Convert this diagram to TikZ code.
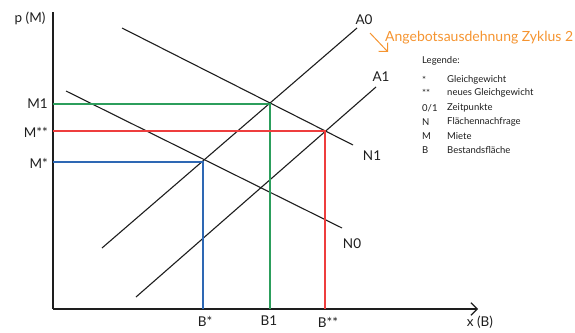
\documentclass[tikz,border=0pt]{standalone}
\usepackage{fontspec}
\setmainfont{Lato}
\usepackage{xcolor}
\usepackage{tikz}
\usetikzlibrary{arrows.meta}
\definecolor{mktgreen}{RGB}{44,158,92}
\definecolor{mktred}{RGB}{238,62,62}
\definecolor{mktblue}{RGB}{46,104,180}
\definecolor{mktorange}{RGB}{245,148,48}
\definecolor{mktgray}{RGB}{30,30,30}

\begin{document}
\begin{tikzpicture}[
    x=1pt, y=-1pt,
    font=\fontsize{13.5}{15}\selectfont,
    axis/.style={line width=1.2pt, draw=mktgray},
    curve/.style={line width=1.1pt, draw=mktgray},
    guide/.style={line width=1.2pt},
    lbl/.style={inner sep=1pt, text=mktgray},
    legend/.style={inner sep=0pt, anchor=west, font=\fontsize{9.5}{11}\selectfont, text=mktgray},
    arr/.style={-{Straight Barb[length=2.2mm]}, line width=1pt, draw=mktorange}
  ]
    \useasboundingbox (0,0) rectangle (575,332);

    % axes
    \coordinate (O) at (53,309);
    \coordinate (ytop) at (53,12);
    \coordinate (xend) at (478,309);
    \draw[axis] (ytop) -- (O);
    \draw[axis, -{Straight Barb[length=2.2mm]}] (O) -- (xend);
    \node[lbl] (ylab) at (30,18) {p (M)};
    \node[lbl] (xlab) at (480,322) {x (B)};

    % supply and demand
    \coordinate (A0s) at (102,248);
    \coordinate (A0e) at (357,28);
    \coordinate (A1s) at (136,297);
    \coordinate (A1e) at (376,87);
    \coordinate (N0s) at (66,91);
    \coordinate (N0e) at (342,228);
    \coordinate (N1s) at (122,28);
    \coordinate (N1e) at (353,145);
    \draw[curve] (A0s) -- (A0e);
    \draw[curve] (A1s) -- (A1e);
    \draw[curve] (N0s) -- (N0e);
    \draw[curve] (N1s) -- (N1e);
    \node[lbl] (A0) at (364,20) {A0};
    \node[lbl] (A1) at (381,77) {A1};
    \node[lbl] (N0) at (352,244) {N0};
    \node[lbl] (N1) at (372,156) {N1};

    % equilibria
    \coordinate (E0) at (203,162);
    \coordinate (E1) at (270,104);
    \coordinate (E2) at (325,131);
    \draw[guide, mktblue] (O |- E0) -- (E0) -- (E0 |- O);
    \draw[guide, mktgreen] (O |- E1) -- (E1) -- (E1 |- O);
    \draw[guide, mktred] (O |- E2) -- (E2) -- (E2 |- O);
    \node[lbl, anchor=east] (Mst) at (49,163) {M*};
    \node[lbl, anchor=east] (M1) at (49,104) {M1};
    \node[lbl, anchor=east] (Mss) at (49,132) {M**};
    \node[lbl] (Bst) at (205,321) {B*};
    \node[lbl] (B1) at (269,321) {B1};
    \node[lbl] (Bss) at (328,322) {B**};

    % shift note
    \coordinate (sh1) at (370,33);
    \coordinate (sh2) at (388,52);
    \draw[arr] (sh1) -- (sh2);
    \node[lbl, anchor=west, text=mktorange, font=\fontsize{14}{16}\selectfont] (shift) at (384,38) {Angebotsausdehnung Zyklus 2};

    % legend
    \node[legend] (leg) at (422,61) {Legende:};
    \foreach \sym/\txt/\yy [count=\i] in {*/Gleichgewicht/80, **/neues Gleichgewicht/93,
        {0/1}/Zeitpunkte/108, N/Flächennachfrage/122, M/Miete/136, B/Bestandsfläche/150}{
      \node[legend] (s\i) at (422,\yy) {\sym};
      \node[legend] (t\i) at (447,\yy) {\txt};
    }
  \end{tikzpicture}
\end{document}
